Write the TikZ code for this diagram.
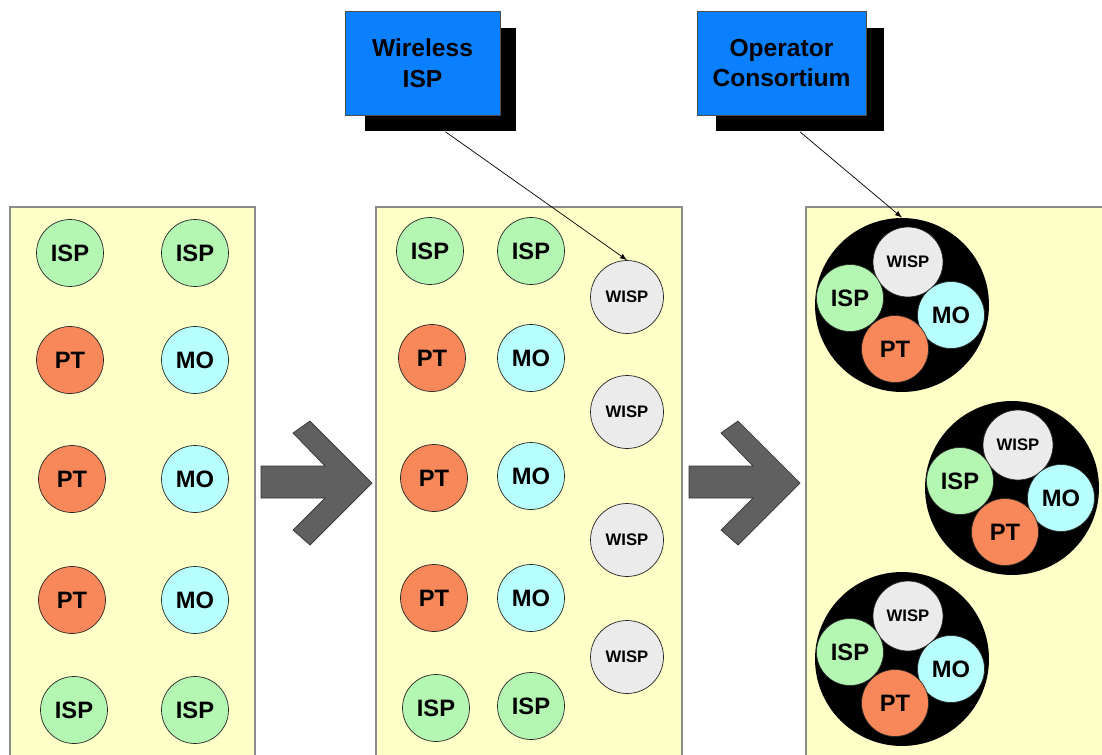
\documentclass[tikz,border=0pt]{standalone}
\usepackage{fontspec}
\setmainfont{Liberation Sans}
\usepackage{tikz}
\usetikzlibrary{positioning, shapes, calc, arrows}

\definecolor{panelyellow}{HTML}{FFFFC8}
\definecolor{ispgreen}{HTML}{B3F7B3}
\definecolor{ptorange}{HTML}{F8885A}
\definecolor{mocyan}{HTML}{B8FFFF}
\definecolor{wispgray}{HTML}{EBEBEB}
\definecolor{boxblue}{HTML}{0A80FF}
\definecolor{arrowgray}{HTML}{606060}

\tikzset{
	panel/.style={draw=black!45, line width=0.8pt, fill=panelyellow},
	unit/.style={circle, draw=black!85, thin, inner sep=0pt, minimum size=1.34cm, font=\fontsize{13.5}{14}\selectfont\bfseries},
	ispnode/.style={unit, fill=ispgreen},
	ptnode/.style={unit, fill=ptorange},
	monode/.style={unit, fill=mocyan},
	wispnode/.style={unit, fill=wispgray, minimum size=1.46cm, font=\fontsize{9.5}{10}\selectfont\bfseries},
	gwisp/.style={wispnode, minimum size=1.4cm},
	consort/.style={circle, fill=black, inner sep=0pt, minimum size=3.48cm},
	bluebox/.style={rectangle, draw=black!70, thin, fill=boxblue, inner sep=0pt, minimum height=2.08cm, align=center, font=\fontsize{14}{17.5}\selectfont\bfseries},
	boxshadow/.style={rectangle, fill=black, inner sep=0pt, minimum height=2.08cm},
	blockarrow/.style={fill=arrowgray, draw=black!80, thin},
	pointer/.style={-latex, thin}
}

\begin{document}
\begin{tikzpicture}[x=0.02cm, y=-0.02cm]
	\useasboundingbox (0,0) rectangle (1102,754);
	\clip (0,0) rectangle (1102,754);
	
	% the three panels
	\draw [panel] (10,207) rectangle (255,770);
	\draw [panel] (376,207) rectangle (682,770);
	\draw [panel] (806,207) rectangle (1120,770);
	
	% left panel
	\node [ispnode] (l1a) at (70,253) {ISP};
	\node [ptnode] (l2a) at (70,360) {PT};
	\node [ptnode] (l3a) at (72,479) {PT};
	\node [ptnode] (l4a) at (72,600) {PT};
	\node [ispnode] (l5a) at (74,710) {ISP};
	\node [ispnode] (l1b) at (195,253) {ISP};
	\node [monode] (l2b) at (195,360) {MO};
	\node [monode] (l3b) at (195,479) {MO};
	\node [monode] (l4b) at (195,600) {MO};
	\node [ispnode] (l5b) at (195,710) {ISP};
	
	% middle panel
	\node [ispnode] (m1a) at (430,251) {ISP};
	\node [ptnode] (m2a) at (432,358) {PT};
	\node [ptnode] (m3a) at (434,478) {PT};
	\node [ptnode] (m4a) at (434,598) {PT};
	\node [ispnode] (m5a) at (436,708) {ISP};
	\node [ispnode] (m1b) at (531,251) {ISP};
	\node [monode] (m2b) at (531,358) {MO};
	\node [monode] (m3b) at (531,476) {MO};
	\node [monode] (m4b) at (531,598) {MO};
	\node [ispnode] (m5b) at (531,706) {ISP};
	\node [wispnode] (w1) at (627,297) {WISP};
	\node [wispnode] (w2) at (627,412) {WISP};
	\node [wispnode] (w3) at (627,540) {WISP};
	\node [wispnode] (w4) at (627,657) {WISP};
	
	% right panel, consortia
	\node [consort] (c1) at (902,305) {};
	\node [gwisp] (c1w) at (908,262) {WISP};
	\node [ispnode] (c1i) at (850,298) {ISP};
	\node [monode] (c1m) at (951,315) {MO};
	\node [ptnode] (c1p) at (895,349) {PT};
	
	\node [consort] (c2) at (1012,488) {};
	\node [gwisp] (c2w) at (1018,445) {WISP};
	\node [ispnode] (c2i) at (960,481) {ISP};
	\node [monode] (c2m) at (1061,498) {MO};
	\node [ptnode] (c2p) at (1005,532) {PT};
	
	\node [consort] (c3) at (902,659) {};
	\node [gwisp] (c3w) at (908,616) {WISP};
	\node [ispnode] (c3i) at (850,652) {ISP};
	\node [monode] (c3m) at (951,669) {MO};
	\node [ptnode] (c3p) at (895,703) {PT};
	
	% big arrows
	\draw [blockarrow] (261,466) -- (325,466) -- (293,433) -- (310,421) -- (372,483) -- (310,545) -- (293,530) -- (325,498) -- (261,498) -- cycle;
	\draw [blockarrow] (689,466) -- (753,466) -- (721,433) -- (738,421) -- (800,483) -- (738,545) -- (721,530) -- (753,498) -- (689,498) -- cycle;
	
	% boxes on top
	\node [boxshadow, minimum width=3.02cm] (wsh) at (440.5,79.5) {};
	\node [bluebox, minimum width=3.1cm] (wbox) at (422.5,63) {Wireless\\ISP};
	\node [boxshadow, minimum width=3.36cm] (osh) at (800,79.5) {};
	\node [bluebox, minimum width=3.38cm] (obox) at (781.5,63) {Operator\\Consortium};
	
	\draw [pointer] (wsh.south) ++(5,0) -- (w1.north);
	\draw [pointer] (osh.south) -- (c1.north);
\end{tikzpicture}
\end{document}
